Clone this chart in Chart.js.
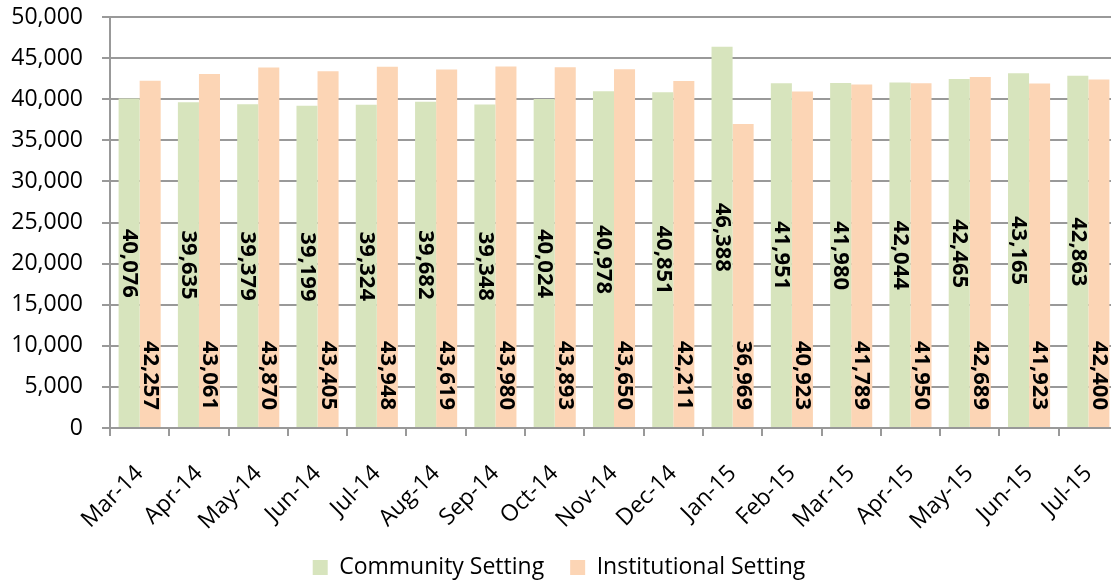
<!DOCTYPE html>
<html>
<head>
<meta charset="utf-8">
<script src="https://cdn.jsdelivr.net/npm/chart.js@4/dist/chart.umd.min.js"></script>
<style>
  html, body { margin: 0; padding: 0; background: #fff; overflow: hidden; }
  #wrap { width: 1118px; height: 583px; }
</style>
</head>
<body>
<div id="wrap"><canvas id="chart"></canvas></div>
<script>
// data
var months = ['Mar-14', 'Apr-14', 'May-14', 'Jun-14', 'Jul-14', 'Aug-14', 'Sep-14', 'Oct-14', 'Nov-14',
    'Dec-14', 'Jan-15', 'Feb-15', 'Mar-15', 'Apr-15', 'May-15', 'Jun-15', 'Jul-15'];
var community = [40076, 39635, 39379, 39199, 39324, 39682, 39348, 40024, 40978,
    40851, 46388, 41951, 41980, 42044, 42465, 43165, 42863];
var institutional = [42257, 43061, 43870, 43405, 43948, 43619, 43980, 43893, 43650,
    42211, 36969, 40923, 41789, 41950, 42689, 41923, 42400];

var FONT = '"Open Sans", "Liberation Sans", sans-serif';

// rotated value labels, community centred, institutional at the base
var barLabels = {
    id: 'barLabels',
    afterDatasetsDraw: function (chart) {
        var ctx = chart.ctx;
        var yZero = chart.scales.y.getPixelForValue(0);
        ctx.save();
        ctx.font = 'bold 22px ' + FONT;
        ctx.fillStyle = '#000';
        ctx.textBaseline = 'middle';
        chart.data.datasets.forEach(function (ds, i) {
            chart.getDatasetMeta(i).data.forEach(function (bar, j) {
                var txt = ds.data[j].toLocaleString('en-US');
                ctx.save();
                if (i === 0) {
                    ctx.translate(bar.x, (bar.y + yZero) / 2);
                    ctx.rotate(Math.PI / 2);
                    ctx.textAlign = 'center';
                } else {
                    ctx.translate(bar.x, yZero - 18);
                    ctx.rotate(Math.PI / 2);
                    ctx.textAlign = 'right';
                }
                ctx.fillText(txt, 0, 0);
                ctx.restore();
            });
        });
        ctx.restore();
    }
};

new Chart(document.getElementById('chart'), {
    type: 'bar',
    data: {
        labels: months,
        datasets: [{
            label: 'Community Setting',
            data: community,
            backgroundColor: '#d7e4bd',
            categoryPercentage: 0.71,
            barPercentage: 1
        }, {
            label: 'Institutional Setting',
            data: institutional,
            backgroundColor: '#fcd5b5',
            categoryPercentage: 0.71,
            barPercentage: 1
        }]
    },
    options: {
        responsive: true,
        maintainAspectRatio: false,
        animation: false,
        layout: { padding: { top: 17, left: 0, right: 0, bottom: -6 } },
        plugins: {
            tooltip: { enabled: false },
            legend: {
                position: 'bottom',
                labels: {
                    boxWidth: 15,
                    boxHeight: 15,
                    padding: 26,
                    color: '#000',
                    font: { family: FONT, size: 23 }
                }
            }
        },
        scales: {
            x: {
                afterFit: function (s) { s.height = 102; s.paddingLeft = 0; s.paddingRight = 0; },
                grid: {
                    offset: true,
                    drawOnChartArea: false,
                    color: '#999',
                    lineWidth: 2,
                    tickLength: 8
                },
                border: { color: '#999', width: 2 },
                ticks: {
                    color: '#000',
                    maxRotation: 45,
                    minRotation: 45,
                    padding: 24,
                    font: { family: FONT, size: 23 }
                }
            },
            y: {
                min: 0,
                max: 50000,
                afterFit: function (s) { s.width = 110; s.paddingTop = 0; s.paddingBottom = 0; },
                grid: { color: '#999', lineWidth: 2, tickLength: 8 },
                border: { color: '#999', width: 2 },
                ticks: {
                    stepSize: 5000,
                    color: '#000',
                    padding: 19,
                    font: { family: FONT, size: 23 },
                    callback: function (v) { return v.toLocaleString('en-US'); }
                }
            }
        }
    },
    plugins: [barLabels]
});
</script>
</body>
</html>
